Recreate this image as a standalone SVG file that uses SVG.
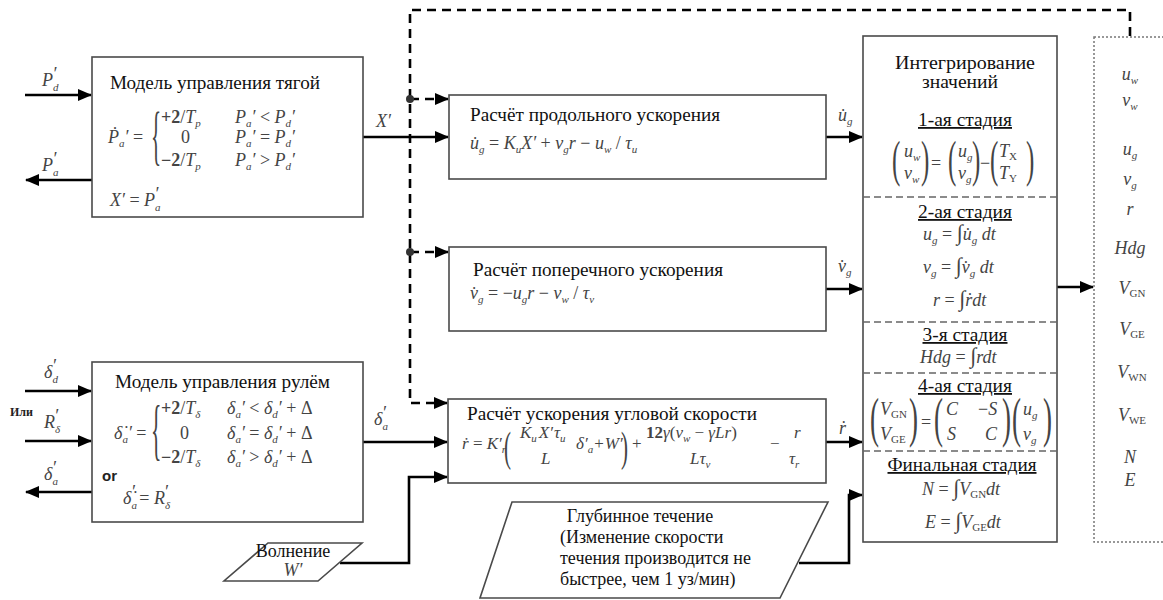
<svg xmlns="http://www.w3.org/2000/svg" width="1163" height="600" viewBox="0 0 1163 600">
<style>
.box{fill:#fff;stroke:#4a4a4a;stroke-width:1.6}
.ln{fill:none;stroke:#000;stroke-width:2.6}
.dl{fill:none;stroke:#000;stroke-width:2.6;stroke-dasharray:9 6}
.sep{stroke:#666;stroke-width:1.3;stroke-dasharray:7 4}
.obox{fill:none;stroke:#777;stroke-width:1.5;stroke-dasharray:2 2}
.t{font-family:"Liberation Serif","Times New Roman","DejaVu Serif",serif;font-size:18px;fill:#111}
.m{font-family:"Liberation Serif","Times New Roman","DejaVu Serif",serif;font-style:italic;font-size:18px;fill:#444}
.e{font-size:17px}
.u{font-style:normal}
.sb{font-size:11px}
.br{font-family:"Liberation Serif","Times New Roman","DejaVu Serif",serif;fill:#444}
.sm{font-family:"Liberation Serif","Times New Roman",serif;font-size:12px;fill:#222;font-weight:bold}
.or{font-family:"Liberation Sans",Arial,sans-serif;font-size:15px;font-weight:bold;fill:#222}
.ul{text-decoration:underline}
</style>
<defs>
<marker id="ah" markerWidth="14" markerHeight="12" refX="13" refY="6" orient="auto" markerUnits="userSpaceOnUse"><path d="M0,0 L14,6 L0,12 z" fill="#000"/></marker>
</defs>
<rect width="1163" height="600" fill="#fff"/>

<g id="connectors">
<path class="ln" d="M25,95 H91" marker-end="url(#ah)"/>
<path class="ln" d="M92,180 H26" marker-end="url(#ah)"/>
<path class="ln" d="M363,137 H448" marker-end="url(#ah)"/>
<path class="ln" d="M25,391 H91" marker-end="url(#ah)"/>
<path class="ln" d="M25,441 H91" marker-end="url(#ah)"/>
<path class="ln" d="M92,492 H26" marker-end="url(#ah)"/>
<path class="ln" d="M363,442 H447" marker-end="url(#ah)"/>
<path class="ln" d="M340,563 H409 V477 H447" marker-end="url(#ah)"/>
<path class="ln" d="M799,563 H849 V495 H862" marker-end="url(#ah)"/>
<path class="ln" d="M826,137 H862" marker-end="url(#ah)"/>
<path class="ln" d="M826,289 H862" marker-end="url(#ah)"/>
<path class="ln" d="M826,442 H862" marker-end="url(#ah)"/>
<path class="ln" d="M1057,287 H1093" marker-end="url(#ah)"/>
<path class="dl" d="M1130,36 V10 H410 V403 H447" marker-end="url(#ah)"/>
<path class="dl" d="M410,99 H448" marker-end="url(#ah)"/>
<path class="dl" d="M410,252 H448" marker-end="url(#ah)"/>
<circle cx="410" cy="99" r="4" fill="#333"/>
<circle cx="410" cy="252" r="4" fill="#333"/>
<text class="m" x="42" y="86">P<tspan class="sb" dy="5">d</tspan><tspan dx="-6" dy="-11">′</tspan></text>
<text class="m" x="42" y="171">P<tspan class="sb" dy="5">a</tspan><tspan dx="-6" dy="-11">′</tspan></text>
<text class="m" x="376" y="127">X′</text>
<text class="m" x="44" y="378">δ<tspan class="sb" dy="5">d</tspan><tspan dx="-6" dy="-11">′</tspan></text>
<text class="sm" x="10" y="416">Или</text>
<text class="m" x="44" y="428">R<tspan class="sb" dy="5">δ</tspan><tspan dx="-6" dy="-11">′</tspan></text>
<text class="m" x="44" y="480">δ<tspan class="sb" dy="5">a</tspan><tspan dx="-6" dy="-11">′</tspan></text>
<text class="m" x="374" y="425">δ<tspan class="sb" dy="5">a</tspan><tspan dx="-6" dy="-11">′</tspan></text>
<text class="m" x="838" y="121">u̇<tspan class="sb" dy="4">g</tspan></text>
<text class="m" x="838" y="272">v̇<tspan class="sb" dy="4">g</tspan></text>
<text class="m" x="839" y="434">ṙ</text>
</g>

<g id="thrust-model">
<rect class="box" x="92" y="57" width="271" height="160"/>
<text class="t" x="110" y="89" textLength="210" lengthAdjust="spacingAndGlyphs">Модель управления тягой</text>
<text class="m" x="108" y="143">Ṗ<tspan class="sb" dy="4">a</tspan><tspan dy="-4">′ <tspan class="u">=</tspan></tspan></text>
<text class="br" font-size="66" transform="translate(151,157) scale(0.32,1)">{</text>
<text class="m" x="161" y="123"><tspan class="u" font-weight="bold">+2</tspan><tspan class="u">/</tspan>T<tspan class="sb" dy="4">p</tspan></text>
<text class="m" x="181" y="143"><tspan class="u">0</tspan></text>
<text class="m" x="161" y="166"><tspan class="u" font-weight="bold">−2</tspan><tspan class="u">/</tspan>T<tspan class="sb" dy="4">p</tspan></text>
<text class="m" x="235" y="123">P<tspan class="sb" dy="4">a</tspan><tspan dy="-4">′ <tspan class="u">&lt;</tspan> P</tspan><tspan class="sb" dy="4">d</tspan><tspan dy="-4">′</tspan></text>
<text class="m" x="235" y="143">P<tspan class="sb" dy="4">a</tspan><tspan dy="-4">′ <tspan class="u">=</tspan> P</tspan><tspan class="sb" dy="4">d</tspan><tspan dy="-4">′</tspan></text>
<text class="m" x="235" y="166">P<tspan class="sb" dy="4">a</tspan><tspan dy="-4">′ <tspan class="u">&gt;</tspan> P</tspan><tspan class="sb" dy="4">d</tspan><tspan dy="-4">′</tspan></text>
<text class="m" x="110" y="206">X′ <tspan class="u">=</tspan> P<tspan class="sb" dy="5">a</tspan><tspan dx="-6" dy="-11">′</tspan></text>
</g>

<g id="rudder-model">
<rect class="box" x="92" y="362" width="271" height="160"/>
<text class="t" x="115" y="388" textLength="215" lengthAdjust="spacingAndGlyphs">Модель управления рулём</text>
<text class="m" x="114" y="439">δ̇<tspan class="sb" dy="4">a</tspan><tspan dy="-4">′ <tspan class="u">=</tspan></tspan></text>
<text class="br" font-size="68" transform="translate(151,452) scale(0.32,1)">{</text>
<text class="m" x="161" y="414"><tspan class="u" font-weight="bold">+2</tspan><tspan class="u">/</tspan>T<tspan class="sb" dy="4">δ</tspan></text>
<text class="m" x="180" y="439"><tspan class="u">0</tspan></text>
<text class="m" x="161" y="463"><tspan class="u" font-weight="bold">−2</tspan><tspan class="u">/</tspan>T<tspan class="sb" dy="4">δ</tspan></text>
<text class="m" x="227" y="414">δ<tspan class="sb" dy="4">a</tspan><tspan dy="-4">′ <tspan class="u">&lt;</tspan> δ</tspan><tspan class="sb" dy="4">d</tspan><tspan dy="-4">′ <tspan class="u">+ Δ</tspan></tspan></text>
<text class="m" x="227" y="439">δ<tspan class="sb" dy="4">a</tspan><tspan dy="-4">′ <tspan class="u">=</tspan> δ</tspan><tspan class="sb" dy="4">d</tspan><tspan dy="-4">′ <tspan class="u">+ Δ</tspan></tspan></text>
<text class="m" x="227" y="463">δ<tspan class="sb" dy="4">a</tspan><tspan dy="-4">′ <tspan class="u">&gt;</tspan> δ</tspan><tspan class="sb" dy="4">d</tspan><tspan dy="-4">′ <tspan class="u">+ Δ</tspan></tspan></text>
<text class="or" x="102" y="481">or</text>
<text class="m" x="123" y="504">δ̇<tspan class="sb" dy="5">a</tspan><tspan dx="-6" dy="-11">′</tspan><tspan dy="6" class="u"> = </tspan>R<tspan class="sb" dy="5">δ</tspan><tspan dx="-6" dy="-11">′</tspan></text>
</g>

<g id="longitudinal">
<rect class="box" x="449" y="95" width="377" height="84"/>
<text class="t" x="470" y="121" textLength="250" lengthAdjust="spacingAndGlyphs">Расчёт продольного ускорения</text>
<text class="m" x="470" y="149">u̇<tspan class="sb" dy="4">g</tspan><tspan dy="-4" class="u"> = </tspan>K<tspan class="sb" dy="4">u</tspan><tspan dy="-4">X′</tspan><tspan class="u"> + </tspan>v<tspan class="sb" dy="4">g</tspan><tspan dy="-4">r</tspan><tspan class="u"> − </tspan>u<tspan class="sb" dy="4">w</tspan><tspan dy="-4" class="u"> / </tspan>τ<tspan class="sb" dy="4">u</tspan></text>
</g>

<g id="lateral">
<rect class="box" x="449" y="247" width="377" height="84"/>
<text class="t" x="473" y="276" textLength="250" lengthAdjust="spacingAndGlyphs">Расчёт поперечного ускорения</text>
<text class="m" x="470" y="299">v̇<tspan class="sb" dy="4">g</tspan><tspan dy="-4" class="u"> = −</tspan>u<tspan class="sb" dy="4">g</tspan><tspan dy="-4">r</tspan><tspan class="u"> − </tspan>v<tspan class="sb" dy="4">w</tspan><tspan dy="-4" class="u"> / </tspan>τ<tspan class="sb" dy="4">v</tspan></text>
</g>

<g id="yaw">
<rect class="box" x="448" y="399" width="378" height="84"/>
<text class="t" x="467" y="420" textLength="290" lengthAdjust="spacingAndGlyphs">Расчёт ускорения угловой скорости</text>
<text class="m e" x="462" y="449">ṙ<tspan class="u"> = </tspan>K′<tspan class="sb" dy="4">r</tspan></text>
<text class="br" font-size="42" transform="translate(504,461) scale(0.5,1)">(</text>
<text class="m e" x="520" y="438">K<tspan class="sb" dy="4">u</tspan><tspan dy="-4" dx="2">X′</tspan><tspan dx="1">τ</tspan><tspan class="sb" dy="4">u</tspan></text>
<text class="m e" x="541" y="464">L</text>
<text class="m e" x="576" y="449">δ′<tspan class="sb" dy="4">a</tspan><tspan dy="-4" dx="1" class="u">+</tspan><tspan dx="1">W′</tspan></text>
<text class="br" font-size="42" transform="translate(621,461) scale(0.5,1)">)</text>
<text class="m e" x="632" y="449"><tspan class="u">+</tspan></text>
<text class="m e" x="646" y="438"><tspan class="u" font-weight="bold">12</tspan>γ<tspan class="u">(</tspan>v<tspan class="sb" dy="4">w</tspan><tspan dy="-4" class="u"> − </tspan>γLr<tspan class="u">)</tspan></text>
<text class="m e" x="690" y="464">Lτ<tspan class="sb" dy="4">v</tspan></text>
<text class="m e" x="770" y="449"><tspan class="u">−</tspan></text>
<text class="m e" x="794" y="438">r</text>
<text class="m e" x="789" y="464">τ<tspan class="sb" dy="4">r</tspan></text>
</g>

<g id="integration">
<rect class="box" x="863" y="36" width="194" height="506"/>
<line class="sep" x1="863" y1="197" x2="1057" y2="197"/>
<line class="sep" x1="863" y1="322" x2="1057" y2="322"/>
<line class="sep" x1="863" y1="373" x2="1057" y2="373"/>
<line class="sep" x1="863" y1="451" x2="1057" y2="451"/>
<text class="t" x="965" y="69" text-anchor="middle" textLength="140" lengthAdjust="spacingAndGlyphs">Интегрирование</text>
<text class="t" x="960" y="88" text-anchor="middle" textLength="76" lengthAdjust="spacingAndGlyphs">значений</text>
<text class="t ul" x="965" y="126" text-anchor="middle" textLength="94" lengthAdjust="spacingAndGlyphs">1-ая стадия</text>
<text class="br" font-size="50" transform="translate(892,176) scale(0.5,1)">(</text>
<text class="m" x="904" y="157">u<tspan class="sb" dy="4">w</tspan></text>
<text class="m" x="904" y="179">v<tspan class="sb" dy="4">w</tspan></text>
<text class="br" font-size="50" transform="translate(921,176) scale(0.5,1)">)</text>
<text class="m" x="931" y="169"><tspan class="u">=</tspan></text>
<text class="br" font-size="50" transform="translate(948,176) scale(0.5,1)">(</text>
<text class="m" x="958" y="157">u<tspan class="sb" dy="4">g</tspan></text>
<text class="m" x="958" y="179">v<tspan class="sb" dy="4">g</tspan></text>
<text class="br" font-size="50" transform="translate(972,176) scale(0.5,1)">)</text>
<text class="m" x="980" y="169"><tspan class="u">−</tspan></text>
<text class="br" font-size="50" transform="translate(990,176) scale(0.5,1)">(</text>
<text class="m" x="999" y="157">T<tspan class="sb u" dy="3">X</tspan></text>
<text class="m" x="999" y="179">T<tspan class="sb u" dy="3">Y</tspan></text>
<text class="br" font-size="50" transform="translate(1026,176) scale(0.5,1)">)</text>

<text class="t ul" x="965" y="218" text-anchor="middle" textLength="94" lengthAdjust="spacingAndGlyphs">2-ая стадия</text>
<text class="m" x="923" y="240">u<tspan class="sb" dy="4">g</tspan><tspan dy="-4" class="u"> = </tspan><tspan class="u" font-size="22">∫</tspan>u̇<tspan class="sb" dy="4">g</tspan><tspan dy="-4"> dt</tspan></text>
<text class="m" x="923" y="273">v<tspan class="sb" dy="4">g</tspan><tspan dy="-4" class="u"> = </tspan><tspan class="u" font-size="22">∫</tspan>v̇<tspan class="sb" dy="4">g</tspan><tspan dy="-4"> dt</tspan></text>
<text class="m" x="933" y="306">r<tspan class="u"> = </tspan><tspan class="u" font-size="22">∫</tspan>ṙdt</text>
<text class="t ul" x="965" y="341" text-anchor="middle" textLength="85" lengthAdjust="spacingAndGlyphs">3-я стадия</text>
<text class="m" x="920" y="363">Hdg<tspan class="u"> = </tspan><tspan class="u" font-size="22">∫</tspan>rdt</text>
<text class="t ul" x="965" y="392" text-anchor="middle" textLength="94" lengthAdjust="spacingAndGlyphs">4-ая стадия</text>
<text class="br" font-size="54" transform="translate(870,436) scale(0.5,1)">(</text>
<text class="m" x="880" y="415">V<tspan class="sb u" font-size="8" dy="3">GN</tspan></text>
<text class="m" x="880" y="440">V<tspan class="sb u" font-size="8" dy="3">GE</tspan></text>
<text class="br" font-size="54" transform="translate(909,436) scale(0.5,1)">)</text>
<text class="m" x="921" y="428"><tspan class="u">=</tspan></text>
<text class="br" font-size="54" transform="translate(934,436) scale(0.5,1)">(</text>
<text class="m" x="946" y="415">C</text>
<text class="m" x="978" y="415"><tspan class="u">−</tspan>S</text>
<text class="m" x="947" y="440">S</text>
<text class="m" x="985" y="440">C</text>
<text class="br" font-size="54" transform="translate(1002,436) scale(0.5,1)">)</text>
<text class="br" font-size="54" transform="translate(1012,436) scale(0.5,1)">(</text>
<text class="m" x="1023" y="415">u<tspan class="sb" dy="4">g</tspan></text>
<text class="m" x="1023" y="440">v<tspan class="sb" dy="4">g</tspan></text>
<text class="br" font-size="54" transform="translate(1043,436) scale(0.5,1)">)</text>
<text class="t ul" x="962" y="471" text-anchor="middle" textLength="149" lengthAdjust="spacingAndGlyphs">Финальная стадия</text>
<text class="m" x="922" y="495">N<tspan class="u"> = </tspan><tspan class="u" font-size="22">∫</tspan>V<tspan class="sb u" font-size="8" dy="3">GN</tspan><tspan dy="-3">dt</tspan></text>
<text class="m" x="925" y="528">E<tspan class="u"> = </tspan><tspan class="u" font-size="22">∫</tspan>V<tspan class="sb u" font-size="8" dy="3">GE</tspan><tspan dy="-3">dt</tspan></text>
</g>

<g id="outputs">
<rect class="obox" x="1094" y="37" width="90" height="505"/>
<g class="m" text-anchor="middle">
<text x="1130" y="80">u<tspan class="sb" dy="4">w</tspan></text>
<text x="1130" y="106">v<tspan class="sb" dy="4">w</tspan></text>
<text x="1130" y="155">u<tspan class="sb" dy="4">g</tspan></text>
<text x="1130" y="185">v<tspan class="sb" dy="4">g</tspan></text>
<text x="1130" y="215">r</text>
<text x="1130" y="254">Hdg</text>
<text x="1132" y="294">V<tspan class="sb u" font-size="8" dy="3">GN</tspan></text>
<text x="1132" y="335">V<tspan class="sb u" font-size="8" dy="3">GE</tspan></text>
<text x="1132" y="378">V<tspan class="sb u" font-size="8" dy="3">WN</tspan></text>
<text x="1132" y="421">V<tspan class="sb u" font-size="8" dy="3">WE</tspan></text>
<text x="1130" y="463">N</text>
<text x="1130" y="486">E</text>
</g>
</g>

<g id="waves">
<polygon class="box" points="268,543 362,543 318,581 224,581"/>
<text class="t" x="293" y="557" text-anchor="middle" font-size="15">Волнение</text>
<text class="m" x="293" y="576" text-anchor="middle" font-size="15">W′</text>
</g>

<g id="deep-current">
<polygon class="box" points="512,502 828,502 780,598 480,598"/>
<text class="t" x="640" y="522" text-anchor="middle" font-size="16">Глубинное течение</text>
<text class="t" x="560" y="543" font-size="16">(Изменение скорости</text>
<text class="t" x="560" y="564" font-size="16">течения производится не</text>
<text class="t" x="560" y="585" font-size="16">быстрее, чем 1 уз/мин)</text>
</g>
</svg>
